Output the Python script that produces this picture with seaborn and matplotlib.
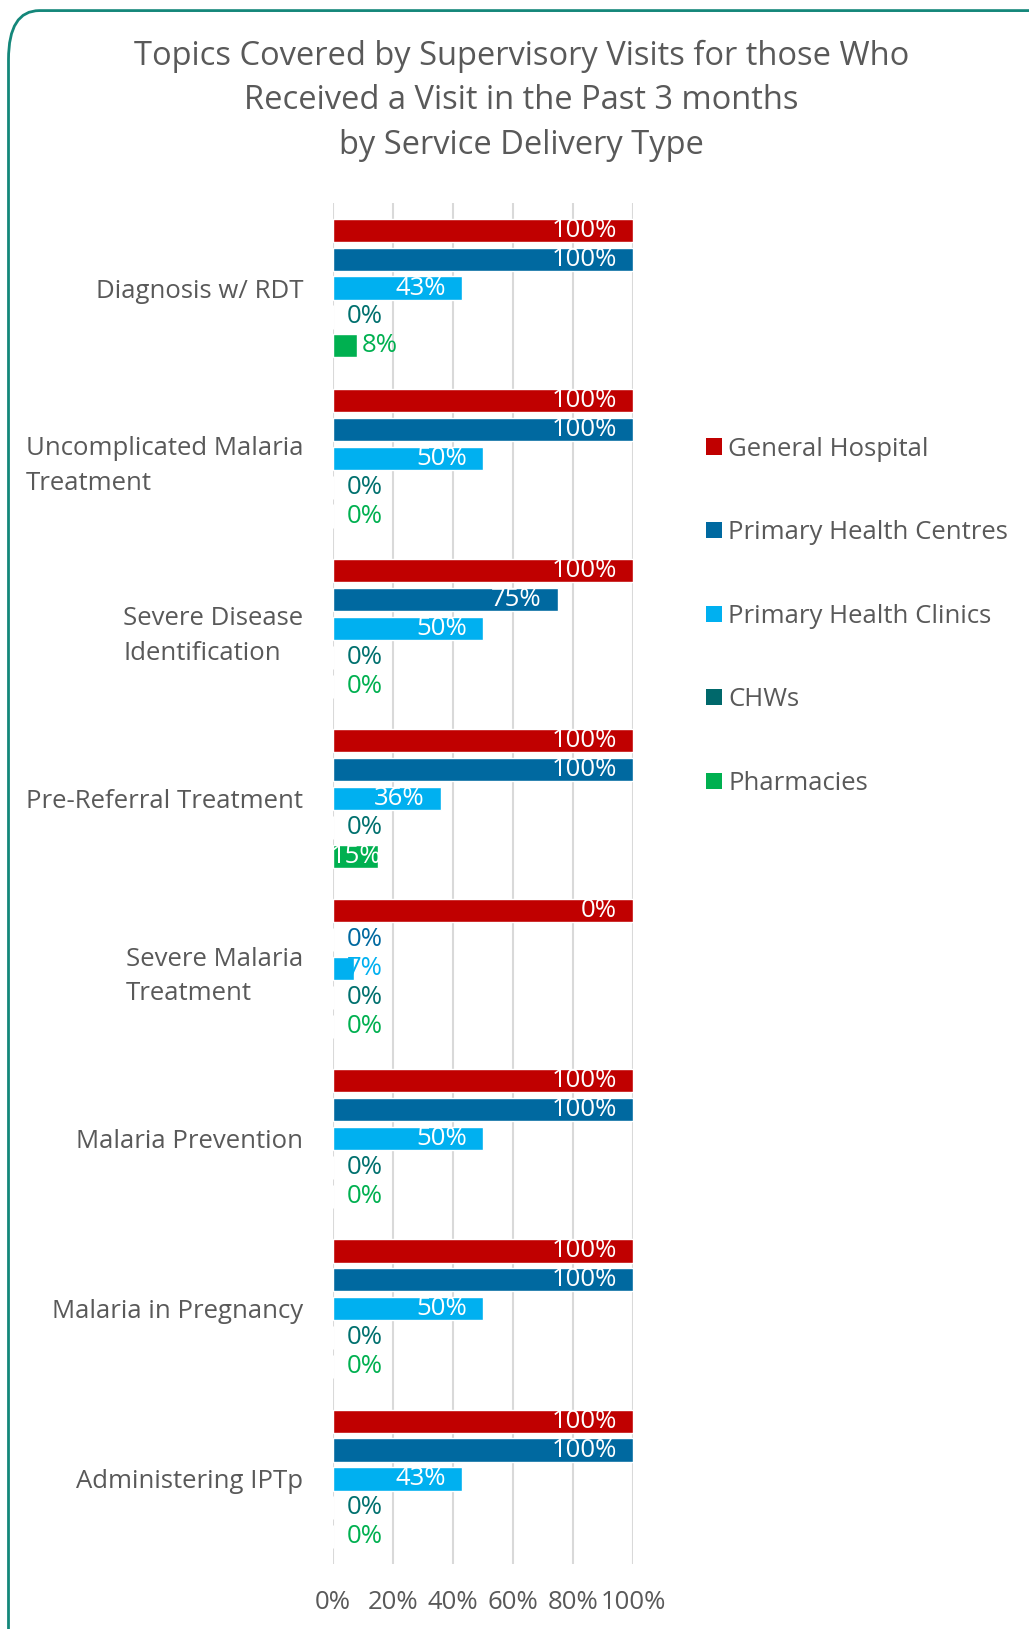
import numpy as np
import pandas as pd
import matplotlib
matplotlib.use("Agg")
import matplotlib.pyplot as plt
import seaborn as sns
from matplotlib.patches import FancyBboxPatch, Patch

## Data
categories = ["Diagnosis w/ RDT", "Uncomplicated Malaria\nTreatment",
              "Severe Disease\nIdentification", "Pre-Referral Treatment",
              "Severe Malaria\nTreatment", "Malaria Prevention",
              "Malaria in Pregnancy", "Administering IPTp"]
series = ["General Hospital", "Primary Health Centres", "Primary Health Clinics",
          "CHWs", "Pharmacies"]

general_hospital = [100, 100, 100, 100, 100, 100, 100, 100]
# the source chart prints 0% on the full Severe Malaria Treatment bar
general_hospital_labels = ["100%", "100%", "100%", "100%", "0%", "100%", "100%", "100%"]
primary_health_centres = [100, 100, 75, 100, 0, 100, 100, 100]
primary_health_clinics = [43, 50, 50, 36, 7, 50, 50, 43]
chws = [0, 0, 0, 0, 0, 0, 0, 0]
pharmacies = [8, 0, 0, 15, 0, 0, 0, 0]

values = [general_hospital, primary_health_centres, primary_health_clinics, chws, pharmacies]
colors = ["#C00000", "#0069A0", "#00B0F0", "#00686B", "#00B050"]
label_colors = ["#FFFFFF", "#0069A0", "#00B0F0", "#00706E", "#00B050"]

rows = []
for s, vals in zip(series, values):
    for c, v in zip(categories, vals):
        rows.append({"topic": c, "type": s, "pct": v})
df = pd.DataFrame(rows)

sns.set_style("white")
plt.rcParams["font.family"] = ["Open Sans", "DejaVu Sans"]
grey = "#595959"
fs = 18.5

fig = plt.figure(figsize=(10.29, 16.29), dpi=100)
ax = fig.add_axes([0.3232, 0.0399, 0.2920, 0.8355])

sns.barplot(data=df, y="topic", x="pct", hue="type", order=categories,
            hue_order=series, palette=colors, orient="h", width=0.85, gap=0.2,
            saturation=1, ax=ax, legend=False)

ax.set_xlim(0, 100)
ax.set_xticks(np.arange(0, 101, 20))
ax.set_xticklabels([f"{t}%" for t in range(0, 101, 20)])
ax.set_xlabel("")
ax.set_ylabel("")
ax.grid(axis="x", color="#D9D9D9", linewidth=1.5)
ax.set_axisbelow(True)
for sp in ax.spines.values():
    sp.set_visible(False)
ax.tick_params(axis="y", length=0, pad=21, labelsize=fs, labelcolor=grey)
ax.tick_params(axis="x", length=0, pad=19, labelsize=fs, labelcolor=grey)
for t in ax.get_yticklabels():
    t.set_multialignment("left")
    t.set_linespacing(1.5)

## Bar labels
for i, cont in enumerate(ax.containers):
    for j, bar in enumerate(cont):
        v = values[i][j]
        txt = general_hospital_labels[j] if i == 0 else f"{v}%"
        y = bar.get_y() + bar.get_height() / 2
        if v >= 30:
            ax.text(v - 5.4, y, txt, ha="right", va="center", color="white", fontsize=fs)
        elif v >= 14:
            ax.text(v + 1.3, y, txt, ha="right", va="center", color="white", fontsize=fs)
        elif v >= 8:
            ax.text(v + 1.8, y, txt, ha="left", va="center", color=label_colors[i], fontsize=fs)
        else:
            ax.text(4.8, y, txt, ha="left", va="center", color=label_colors[i], fontsize=fs,
                    zorder=1)

## Legend
handles = [Patch(facecolor=c, edgecolor="none", label=s) for s, c in zip(series, colors)]
fig.legend(handles=handles, loc="upper left", bbox_to_anchor=(0.664, 0.7462),
           frameon=False, fontsize=fs, labelcolor=grey, handlelength=0.6,
           handleheight=0.6, handletextpad=0.25, labelspacing=2.28)

## Title
fig.text(0.507, 0.9755, "Topics Covered by Supervisory Visits for those Who\n"
         "Received a Visit in the Past 3 months\nby Service Delivery Type",
         ha="center", va="top", fontsize=23.5, color=grey, linespacing=1.45)

## Border
border = FancyBboxPatch((8.5 / 1029, -0.05), 1.05, 1.0435,
                        boxstyle="round,pad=0,rounding_size=0.03",
                        transform=fig.transFigure, facecolor="none",
                        edgecolor="#14877A", linewidth=2, clip_on=False)
fig.patches.append(border)

fig.savefig("out.png", dpi=100)
